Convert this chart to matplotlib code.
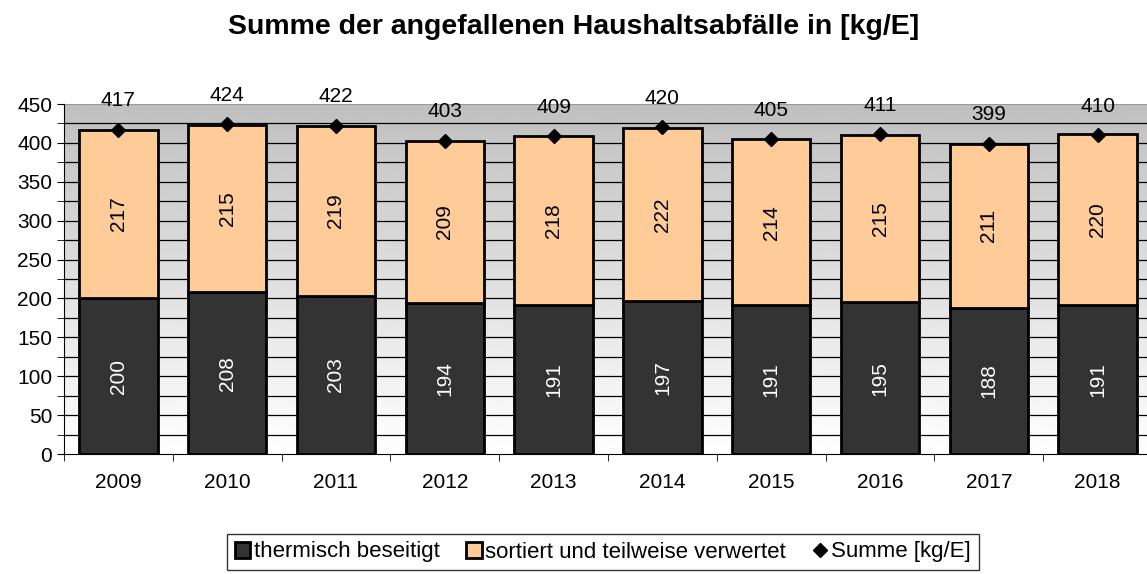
import matplotlib.pyplot as plt
import numpy as np

plt.rcParams['font.family'] = ['Liberation Sans', 'DejaVu Sans']

years = ['2009', '2010', '2011', '2012', '2013', '2014', '2015', '2016', '2017', '2018']
thermisch = [200, 208, 203, 194, 191, 197, 191, 195, 188, 191]
sortiert = [217, 215, 219, 209, 218, 222, 214, 215, 211, 220]
summe = [417, 424, 422, 403, 409, 420, 405, 411, 399, 410]

W, H = 1147, 574
fig = plt.figure(figsize=(W / 100, H / 100), dpi=100)
ax_w = 10 * 108.8
ax = fig.add_axes([64 / W, 1 - 454 / H, ax_w / W, 350 / H])

x = np.arange(len(years))
ax.set_xlim(-0.5, len(years) - 0.5)
ax.set_ylim(0, 450)

# Hintergrund: oben grau, unten weiss
grad = np.linspace(0.75, 1.0, 256).reshape(-1, 1)
ax.imshow(grad, extent=[-0.5, len(years) - 0.5, 0, 450], origin='upper', cmap='gray',
          vmin=0, vmax=1, aspect='auto', zorder=0)

for yv in np.arange(25, 450, 25):
    ax.axhline(yv, color='black', linewidth=0.9, zorder=1)

bw = 0.72
b1 = ax.bar(x, thermisch, bw, color='#333333', edgecolor='black', linewidth=2, zorder=2,
            label='thermisch beseitigt')
b2 = ax.bar(x, sortiert, bw, bottom=thermisch, color='#ffcc99', edgecolor='black', linewidth=2,
            zorder=2, label='sortiert und teilweise verwertet')
p, = ax.plot(x, summe, linestyle='none', marker='D', color='black', markersize=7, zorder=3,
             label='Summe [kg/E]')

for i in range(len(years)):
    ax.text(x[i], thermisch[i] / 2, str(thermisch[i]), rotation=90, ha='center', va='center',
            color='white', fontsize=15, zorder=4)
    ax.text(x[i], thermisch[i] + sortiert[i] / 2, str(sortiert[i]), rotation=90, ha='center',
            va='center', color='black', fontsize=15, zorder=4)
    ax.text(x[i], summe[i] + 37, str(summe[i]), ha='center', va='center', color='black',
            fontsize=15, zorder=4, clip_on=False)

ax.set_yticks(np.arange(0, 451, 50))
ax.set_yticks(np.arange(25, 450, 50), minor=True)
ax.set_xticks(np.arange(-0.5, len(years), 1), minor=True)
ax.set_xticks(x)
ax.set_xticklabels(years)
ax.tick_params(axis='both', which='major', labelsize=15, direction='out', length=5)
ax.tick_params(axis='x', which='major', length=0, pad=14)
ax.tick_params(axis='x', which='minor', length=5, direction='out')
ax.tick_params(axis='y', which='minor', length=5, direction='out')
for s in ['top', 'right']:
    ax.spines[s].set_visible(False)
ax.spines['left'].set_color('black')
ax.spines['bottom'].set_color('black')
ax.axhline(450, color='#999999', linewidth=1.5, zorder=1)

fig.text(0.5, 1 - 27 / H, 'Summe der angefallenen Haushaltsabfälle in [kg/E]', ha='center',
         va='center', fontsize=20.5, fontweight='bold')

leg = fig.legend(handles=[b1, b2, p], loc='center', bbox_to_anchor=(603 / W, 1 - 552 / H),
                 ncol=3, fontsize=16, frameon=True, fancybox=False, edgecolor='black',
                 handlelength=0.7, handleheight=0.7, handletextpad=0.15, columnspacing=1.2,
                 borderpad=0.35)
leg.get_frame().set_linewidth(1.0)

fig.savefig('out.png', dpi=100)
